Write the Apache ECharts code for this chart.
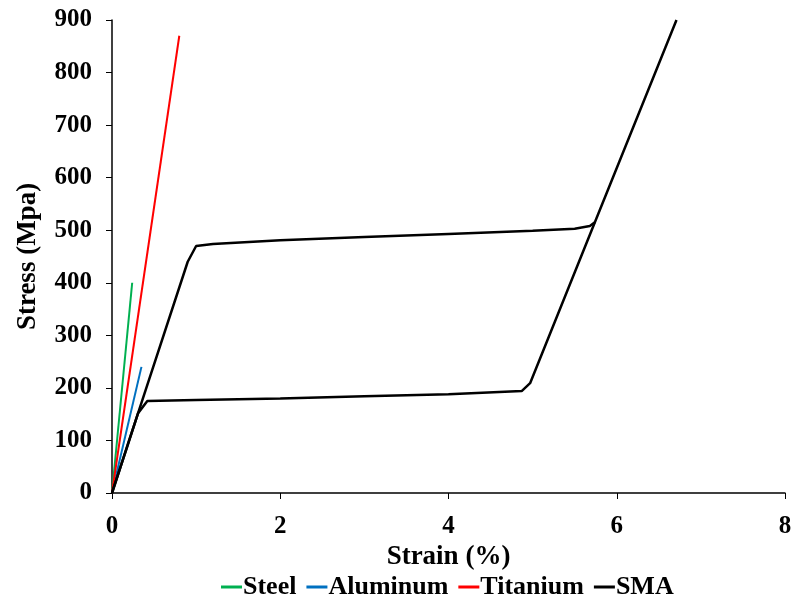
<!DOCTYPE html>
<html><head><meta charset="utf-8">
<script src="https://cdn.jsdelivr.net/npm/echarts@6/dist/echarts.min.js"></script>
<style>html,body{margin:0;padding:0;background:#fff}#c{width:796px;height:603px}</style>
</head><body><div id="c"></div>
<script>
const steel = [[0,0],[0.24,400]];
const aluminum = [[0,0],[0.35,240]];
const titanium = [[0,0],[0.80,870]];
const smaLoading = [[0,0],[0.31,152],[0.9,440],[1.0,470],[1.2,474],[2,481],[3,487],[4,493],[5,499],[5.5,503],[5.68,508],[5.74,515],[6.71,900]];
const smaUnloading = [[5.74,515],[4.97,209],[4.87,194],[4,188],[3,184],[2,180],[1,177],[0.42,175],[0.31,152],[0,0]];
const xTicks = [0,2,4,6,8];
const yTicks = [0,100,200,300,400,500,600,700,800,900];

const font = 'Liberation Serif';
const chart = echarts.init(document.getElementById('c'));
const lineSeries = (name, data, color, w) => ({
  name, type:'line', data, symbol:'none', showSymbol:false,
  lineStyle:{color, width:w}, itemStyle:{color}, animation:false, clip:true
});
chart.setOption({
  animation:false,
  grid:{left:112, right:11, top:20, bottom:110, containLabel:false},
  xAxis:{type:'value', min:xTicks[0], max:xTicks[xTicks.length-1], interval:2,
    name:'Strain (%)', nameLocation:'middle', nameGap:40,
    nameTextStyle:{fontFamily:font, fontWeight:'bold', fontSize:27, color:'#000'},
    axisLine:{lineStyle:{color:'#000', width:1.5}},
    axisTick:{show:true, length:6, lineStyle:{color:'#000'}},
    axisLabel:{fontFamily:font, fontWeight:'bold', fontSize:25, color:'#000', margin:21},
    splitLine:{show:false}},
  yAxis:{type:'value', min:yTicks[0], max:yTicks[yTicks.length-1], interval:100,
    name:'Stress (Mpa)', nameLocation:'middle', nameGap:70, nameRotate:90,
    nameTextStyle:{fontFamily:font, fontWeight:'bold', fontSize:27, color:'#000'},
    axisLine:{show:true, lineStyle:{color:'#000', width:1.5}},
    axisTick:{show:true, length:6, lineStyle:{color:'#000'}},
    axisLabel:{fontFamily:font, fontWeight:'bold', fontSize:25, color:'#000', margin:20},
    splitLine:{show:false}},
  legend:{left:216, top:569, itemWidth:21, itemHeight:3, itemGap:10, icon:'rect',
    textStyle:{fontFamily:font, fontWeight:'bold', fontSize:26, color:'#000', padding:[0,0,0,-4]},
    data:['Steel','Aluminum','Titanium','SMA']},
  series:[
    lineSeries('Steel', steel, '#00b050', 2),
    lineSeries('Aluminum', aluminum, '#0070c0', 2),
    lineSeries('Titanium', titanium, '#ff0000', 2),
    lineSeries('SMA', smaLoading, '#000000', 2.5),
    lineSeries('SMA', smaUnloading, '#000000', 2.5)
  ]
});
</script></body></html>
